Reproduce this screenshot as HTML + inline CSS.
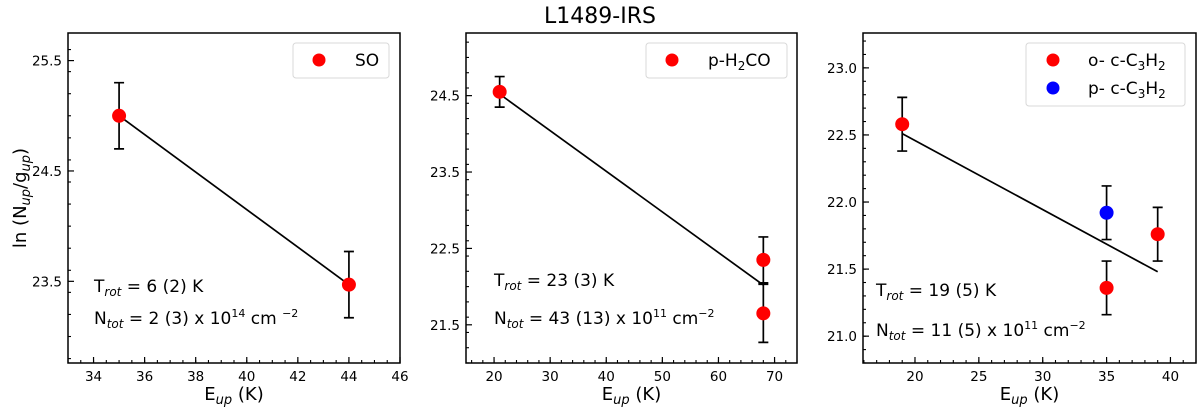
<!DOCTYPE html>
<html><head><meta charset="utf-8"><style>
body{margin:0;background:#fff}
svg{display:block;font-family:"DejaVu Sans","Liberation Sans",sans-serif}
</style></head><body>
<svg id="c" width="1200" height="414" xmlns="http://www.w3.org/2000/svg">
<text x="600" y="23" font-size="22" text-anchor="middle">L1489-IRS</text>
<text transform="translate(26,198) rotate(-90)" font-size="18" text-anchor="middle">ln (N<tspan font-size="13" font-style="italic" dy="4">up</tspan><tspan dy="-4">/g</tspan><tspan font-size="13" font-style="italic" dy="4">up</tspan><tspan dy="-4">)</tspan></text>
</svg>
<script>
// Panel 1: SO
const soE=[35,44];
const soLn=[25.0,23.47];
const soErr=[0.3,0.3];
const soFitE=[35,44];
const soFitLn=[25.0,23.47];
const soXTicks=[34,36,38,40,42,44,46];
const soYTicks=[23.5,24.5,25.5];
// Panel 2: p-H2CO
const h2coE=[21,68,68];
const h2coLn=[24.55,22.35,21.65];
const h2coErr=[0.2,0.3,0.38];
const h2coFitE=[21,68];
const h2coFitLn=[24.52,22.02];
const h2coXTicks=[20,30,40,50,60,70];
const h2coYTicks=[21.5,22.5,23.5,24.5];
// Panel 3: c-C3H2
const orthoE=[19,35,39];
const orthoLn=[22.58,21.36,21.76];
const orthoErr=[0.2,0.2,0.2];
const paraE=[35];
const paraLn=[21.92];
const paraErr=[0.2];
const c3FitE=[19,39];
const c3FitLn=[22.51,21.48];
const c3XTicks=[20,25,30,35,40];
const c3YTicks=[21.0,21.5,22.0,22.5,23.0];

const NS="http://www.w3.org/2000/svg";
const svg=document.getElementById('c');
function mk(tag,attrs,parent){const e=document.createElementNS(NS,tag);for(const k in attrs)e.setAttribute(k,attrs[k]);(parent||svg).appendChild(e);return e;}

function panel(p){
  const g=mk('g',{});
  
  
  const sx=v=>p.l+(v-p.x0)/(p.x1-p.x0)*(p.r-p.l);
  const sy=v=>p.b-(v-p.y0)/(p.y1-p.y0)*(p.b-p.t);
  for(let v=Math.ceil(p.x0/p.xm)*p.xm;v<=p.x1+1e-9;v+=p.xm){
    const x=sx(v);
    const t=mk('line',{x1:x,x2:x,y1:p.b,y2:p.b-3,stroke:'#000','stroke-width':1.1},g);
    
    
  }
  for(let v=Math.ceil(p.y0/p.ym-1e-9)*p.ym;v<=p.y1+1e-9;v+=p.ym){
    const y=sy(v);
    const t=mk('line',{x1:p.l,x2:p.l+3,y1:y,y2:y,stroke:'#000','stroke-width':1.1},g);
    
    
  }
  p.xt.forEach(v=>{
    const x=sx(v);
    if(x>p.r+1)return;
    const t=mk('line',{x1:x,x2:x,y1:p.b,y2:p.b-6,stroke:'#000','stroke-width':1.2},g);
    
    
    const lb=mk('text',{x:x,y:p.b+18,'font-size':13.5,'text-anchor':'middle'},g);
    lb.textContent=String(v);
    
    
  });
  p.yt.forEach(v=>{
    const y=sy(v);
    const t=mk('line',{x1:p.l,x2:p.l+6,y1:y,y2:y,stroke:'#000','stroke-width':1.2},g);
    
    
    const lb=mk('text',{x:p.l-6,y:y+5,'font-size':13.5,'text-anchor':'end'},g);
    lb.textContent=v.toFixed(1);
    
    
  });
  const fr=mk('rect',{x:p.l,y:p.t,width:p.r-p.l,height:p.b-p.t,fill:'none',stroke:'#000','stroke-width':1.5},g);
  
  
  const fl=mk('line',{x1:sx(p.fitE[0]),y1:sy(p.fitLn[0]),x2:sx(p.fitE[1]),y2:sy(p.fitLn[1]),stroke:'#000','stroke-width':1.7},g);
  
  
  p.series.forEach(s=>{
    s.e.forEach((e,i)=>{
      const x=sx(e),y1=sy(s.ln[i]-s.err[i]),y2=sy(s.ln[i]+s.err[i]);
      const eb=mk('path',{d:`M${x},${y1}V${y2}M${x-5},${y1}H${x+5}M${x-5},${y2}H${x+5}`,stroke:'#000','stroke-width':1.7,fill:'none'},g);
      
      
    });
    s.e.forEach((e,i)=>{
      const c=mk('circle',{cx:sx(e),cy:sy(s.ln[i]),r:7,fill:s.color},g);
      
      
    });
  });
  const lg=mk('g',{},g);
  
  
  mk('rect',{x:p.lg[0],y:p.lg[1],width:p.lg[2],height:p.lg[3],rx:3,fill:'#fff',stroke:'#d8d8d8'},lg);
  p.series.forEach((s,i)=>{
    const y=p.lg[1]+17+i*28;
    const c=mk('circle',{cx:p.lg[0]+p.lgDot,cy:y,r:6.5,fill:s.color},lg);
    
    
    const t=mk('text',{x:p.lg[0]+p.lgText,y:y+6,'font-size':17},lg);
    t.innerHTML=s.label;
    
    
  });
  const a1=mk('text',{x:p.ann[0],y:p.ann[1],'font-size':17},g);
  a1.innerHTML=p.t1;
  
  
  const a2=mk('text',{x:p.ann[0],y:p.ann[2],'font-size':17},g);
  a2.innerHTML=p.t2;
  
  
  const xl=mk('text',{x:(p.l+p.r)/2,y:400,'font-size':18,'text-anchor':'middle'},g);
  xl.innerHTML='E<tspan font-size="13" font-style="italic" dy="4">up</tspan><tspan dy="-4"> (K)</tspan>';
  
  
}
const sub=s=>`<tspan font-size="12" font-style="italic" dy="4">${s}</tspan><tspan dy="-4">`;
panel({name:'so-panel',l:68,r:400,t:33,b:363,x0:33,x1:46,y0:22.76,y1:25.75,xm:0.5,ym:0.2,xt:soXTicks,yt:soYTicks,
  fitE:soFitE,fitLn:soFitLn,
  series:[{e:soE,ln:soLn,err:soErr,color:'#ff0000',mark:'so-point',label:'SO'}],
  lg:[293,43,96,35],lgDot:26,lgText:62,
  ann:[94,292,324],t1:'T'+sub('rot')+' = 6 (2) K</tspan>',t2:'N'+sub('tot')+' = 2 (3) x 10<tspan font-size="11" dy="-7">14</tspan><tspan dy="7"> cm </tspan><tspan font-size="11" dy="-7">−2</tspan></tspan>'});
panel({name:'h2co-panel',l:466,r:797,t:33,b:363,x0:15,x1:74,y0:21.0,y1:25.32,xm:2,ym:0.2,xt:h2coXTicks,yt:h2coYTicks,
  fitE:h2coFitE,fitLn:h2coFitLn,
  series:[{e:h2coE,ln:h2coLn,err:h2coErr,color:'#ff0000',mark:'h2co-point',label:'p-H<tspan font-size="12" dy="4">2</tspan><tspan dy="-4">CO</tspan>'}],
  lg:[646,43,141,35],lgDot:26,lgText:62,
  ann:[494,286,324],t1:'T'+sub('rot')+' = 23 (3) K</tspan>',t2:'N'+sub('tot')+' = 43 (13) x 10<tspan font-size="11" dy="-7">11</tspan><tspan dy="7"> cm</tspan><tspan font-size="11" dy="-7">−2</tspan></tspan>'});
panel({name:'c3h2-panel',l:863,r:1196,t:33,b:363,x0:15.93,x1:42,y0:20.8,y1:23.26,xm:1,ym:0.1,xt:c3XTicks,yt:c3YTicks,
  fitE:c3FitE,fitLn:c3FitLn,
  series:[{e:orthoE,ln:orthoLn,err:orthoErr,color:'#ff0000',mark:'ortho-c3h2-point',label:'o- c-C<tspan font-size="12" dy="4">3</tspan><tspan dy="-4">H</tspan><tspan font-size="12" dy="4">2</tspan>'},
          {e:paraE,ln:paraLn,err:paraErr,color:'#0000ff',mark:'para-c3h2-point',label:'p- c-C<tspan font-size="12" dy="4">3</tspan><tspan dy="-4">H</tspan><tspan font-size="12" dy="4">2</tspan>'}],
  lg:[1026,43,159,63],lgDot:27,lgText:62,
  ann:[876,296,336],t1:'T'+sub('rot')+' = 19 (5) K</tspan>',t2:'N'+sub('tot')+' = 11 (5) x 10<tspan font-size="11" dy="-7">11</tspan><tspan dy="7"> cm</tspan><tspan font-size="11" dy="-7">−2</tspan></tspan>'});
</script>
</body></html>
